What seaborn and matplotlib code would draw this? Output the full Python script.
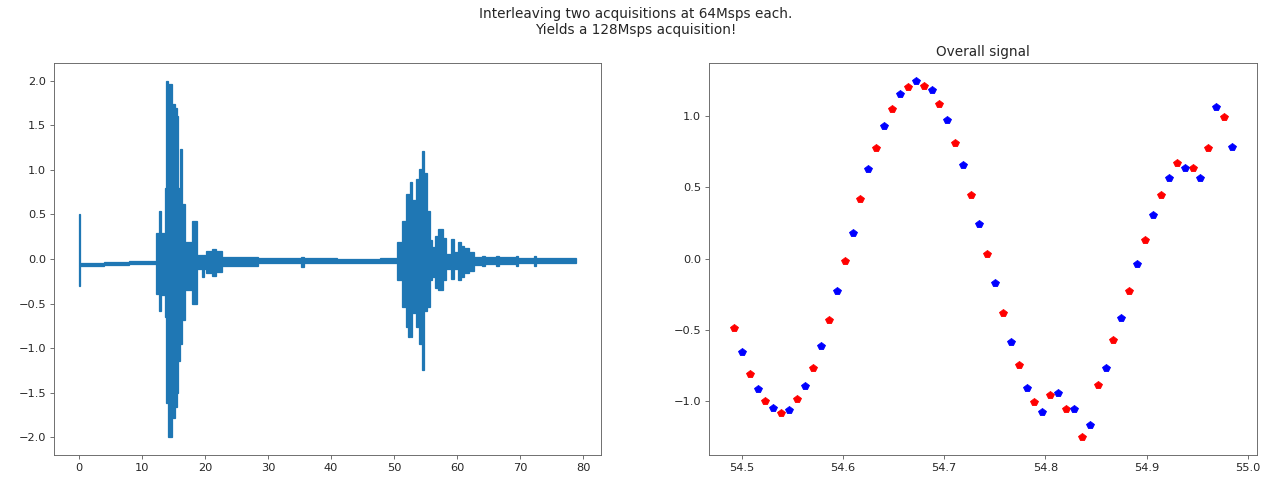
import matplotlib
matplotlib.use("Agg")
from matplotlib import pyplot as plt
import seaborn as sns
import numpy as np
import pandas as pd

# Full record: envelope of the trace (segment start times, us)
env_t = [0.0, 0.15, 4.0, 8.0, 11.0,
         12.3, 12.7, 13.1, 13.6, 13.9, 14.1, 14.8, 15.2, 15.6, 15.8, 16.1, 16.4, 16.8,
         17.9, 18.7, 19.5, 19.9, 20.1, 21.2, 21.8, 22.7, 28.5, 35.3, 35.8, 41.0, 47.8,
         50.4, 51.2, 51.9, 52.3, 52.5, 52.7, 52.9, 53.5, 54.0, 54.4, 54.7, 55.2, 55.7,
         56.0, 56.5, 57.0, 57.8, 58.3, 59.1, 59.6, 60.1, 60.6, 61.1, 61.9, 62.7, 64.0,
         64.4, 66.2, 66.6, 69.3, 69.6, 72.2, 72.5, 78.9]
env_hi = [0.50, -0.04, -0.035, -0.025, -0.02,
          0.29, 0.54, 0.29, 0.80, 2.00, 1.96, 1.74, 1.69, 1.60, 0.80, 1.24, 0.62, 0.19,
          0.43, 0.04, 0.04, 0.04, 0.09, 0.11, 0.09, 0.02, 0.01, 0.02, 0.01, 0.005, 0.01,
          0.19, 0.43, 0.73, 0.73, 0.86, 0.86, 0.66, 0.90, 1.01, 1.21, 0.96, 0.54, 0.21,
          0.14, 0.26, 0.34, 0.24, 0.06, 0.23, 0.08, 0.19, 0.15, 0.12, 0.08, 0.02, 0.03,
          0.02, 0.03, 0.02, 0.03, 0.015, 0.03, 0.015, 0.01]
env_lo = [-0.30, -0.08, -0.07, -0.06, -0.055,
          -0.39, -0.58, -0.40, -0.65, -1.62, -2.00, -1.79, -1.66, -1.50, -1.14, -0.95, -0.69, -0.35,
          -0.50, -0.11, -0.20, -0.11, -0.16, -0.19, -0.15, -0.08, -0.05, -0.09, -0.045, -0.04, -0.045,
          -0.24, -0.54, -0.76, -0.88, -0.61, -0.88, -0.61, -0.76, -0.95, -1.25, -0.58, -0.54, -0.24,
          -0.20, -0.32, -0.35, -0.24, -0.11, -0.22, -0.11, -0.24, -0.20, -0.16, -0.14, -0.07, -0.08,
          -0.06, -0.08, -0.055, -0.08, -0.05, -0.075, -0.05, -0.04]

# Zoomed window: acquisition A (red) and acquisition B (blue), time in us
red_t = [54.4922, 54.5078, 54.5234, 54.5391, 54.5547, 54.5703, 54.5859, 54.6016,
         54.6172, 54.6328, 54.6484, 54.6641, 54.6797, 54.6953, 54.7109, 54.7266,
         54.7422, 54.7578, 54.7734, 54.7891, 54.8047, 54.8203, 54.8359, 54.8516,
         54.8672, 54.8828, 54.8984, 54.9141, 54.9297, 54.9453, 54.9609, 54.9766]
red_y = [-0.486, -0.808, -1.000, -1.080, -0.988, -0.766, -0.434, -0.020,
         0.415, 0.778, 1.051, 1.203, 1.213, 1.082, 0.811, 0.446,
         0.034, -0.382, -0.745, -1.007, -0.956, -1.058, -1.253, -0.885,
         -0.574, -0.230, 0.132, 0.446, 0.670, 0.637, 0.778, 0.991]
blue_t = [54.5000, 54.5156, 54.5313, 54.5469, 54.5625, 54.5781, 54.5938, 54.6094,
          54.6250, 54.6406, 54.6563, 54.6719, 54.6875, 54.7031, 54.7188, 54.7344,
          54.7500, 54.7656, 54.7813, 54.7969, 54.8125, 54.8281, 54.8438, 54.8594,
          54.8750, 54.8906, 54.9063, 54.9219, 54.9375, 54.9531, 54.9688, 54.9844]
blue_y = [-0.656, -0.918, -1.051, -1.061, -0.897, -0.614, -0.228, 0.181,
          0.628, 0.930, 1.152, 1.246, 1.182, 0.970, 0.658, 0.244,
          -0.170, -0.584, -0.906, -1.077, -0.946, -1.058, -1.171, -0.766,
          -0.420, -0.036, 0.305, 0.567, 0.637, 0.567, 1.063, 0.780]

if __name__ == "__main__":
    sns.set_style("ticks")
    plt.rcParams["font.family"] = ["DejaVu Sans"]
    plt.rcParams["axes.edgecolor"] = "0.4"
    plt.rcParams["xtick.color"] = "0.4"
    plt.rcParams["ytick.color"] = "0.4"
    plt.rcParams["xtick.labelcolor"] = "0.15"
    plt.rcParams["ytick.labelcolor"] = "0.15"

    dpi = 82
    fig = plt.figure(figsize=(1272 / dpi, 480 / dpi), dpi=dpi)
    ax1 = fig.add_axes([54 / 1272, 25 / 480, 547 / 1272, 392 / 480])
    ax2 = fig.add_axes([709 / 1272, 25 / 480, 548 / 1272, 392 / 480])

    # Left: whole record, each envelope segment as a filled band
    blue = sns.color_palette()[0]
    seg_t = np.array(env_t[:-1])
    seg_w = np.diff(env_t)
    seg_lo = np.array(env_lo[:-1])
    seg_h = np.array(env_hi[:-1]) - seg_lo
    ax1.bar(seg_t, seg_h, width=seg_w, bottom=seg_lo, align="edge",
            color=blue, edgecolor=blue, linewidth=1.1)
    ax1.use_sticky_edges = False
    ax1.set_xticks(range(0, 81, 10))
    ax1.set_yticks(np.arange(-2, 2.01, 0.5))

    # Right: interleaved samples
    df_a = pd.DataFrame({"t": red_t, "y": red_y})
    df_b = pd.DataFrame({"t": blue_t, "y": blue_y})
    sns.lineplot(data=df_a, x="t", y="y", ax=ax2, color="red", marker="p",
                 linestyle="", markersize=6.5, markeredgecolor="red", estimator=None)
    sns.lineplot(data=df_b, x="t", y="y", ax=ax2, color="blue", marker="p",
                 linestyle="", markersize=6.5, markeredgecolor="blue", estimator=None)
    ax2.set_xlabel("")
    ax2.set_ylabel("")
    ax2.set_title("Overall signal", fontsize=12, color="0.15")
    ax2.set_yticks([-1.0, -0.5, 0.0, 0.5, 1.0])

    for ax in (ax1, ax2):
        ax.margins(0.05)
        ax.autoscale_view()
        for s in ax.spines.values():
            s.set_visible(True)

    fig.suptitle("Interleaving two acquisitions at 64Msps each.\nYields a 128Msps acquisition!",
                 fontsize=12, color="0.15", y=0.985)
    fig.savefig("out.png", dpi=dpi)
